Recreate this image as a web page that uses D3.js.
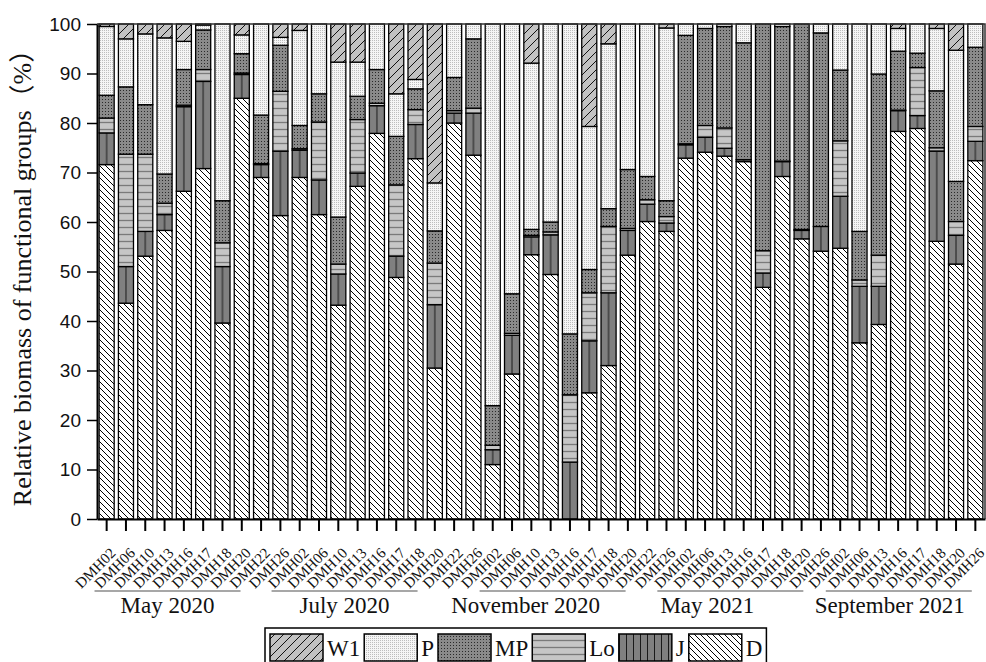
<!DOCTYPE html>
<html>
<head>
<meta charset="utf-8">
<script src="https://cdn.jsdelivr.net/npm/d3@7"></script>
<style>
  body { margin: 0; background: #fff; }
  svg { font-family: 'Liberation Serif', 'Times New Roman', 'Noto Sans CJK SC', serif; }
</style>
</head>
<body>
<div id="chart"></div>
<script>
// Sampling periods and the stations sampled in each one
const periods = ['May 2020', 'July 2020', 'November 2020', 'May 2021', 'September 2021'];
const sitesByPeriod = [
  ['DMH02', 'DMH06', 'DMH10', 'DMH13', 'DMH16', 'DMH17', 'DMH18', 'DMH20', 'DMH22', 'DMH26'],
  ['DMH02', 'DMH06', 'DMH10', 'DMH13', 'DMH16', 'DMH17', 'DMH18', 'DMH20', 'DMH22', 'DMH26'],
  ['DMH02', 'DMH06', 'DMH10', 'DMH13', 'DMH16', 'DMH17', 'DMH18', 'DMH20', 'DMH22', 'DMH26'],
  ['DMH02', 'DMH06', 'DMH13', 'DMH16', 'DMH17', 'DMH18', 'DMH20', 'DMH26'],
  ['DMH02', 'DMH06', 'DMH13', 'DMH16', 'DMH17', 'DMH18', 'DMH20', 'DMH26']
];

// Relative biomass (%) of each functional group, one value per bar (left to right)
const D = [71.6, 43.6, 53.1, 58.3, 66.2, 70.8, 39.6, 85.0, 69.0, 61.3,
  69.0, 61.5, 43.2, 67.2, 77.9, 48.8, 72.8, 30.5, 80.0, 73.5,
  11.0, 29.3, 53.4, 49.4, 0, 25.5, 31.0, 53.3, 60.1, 58.1,
  72.9, 74.1, 73.3, 72.2, 46.8, 69.2, 56.6, 54.1,
  54.7, 35.6, 39.3, 78.3, 78.9, 56.1, 51.5, 72.4];
const J = [6.4, 7.4, 5.0, 3.2, 17.1, 17.6, 11.4, 4.8, 2.6, 13.0,
  5.5, 7.0, 6.3, 2.7, 5.6, 4.3, 6.9, 12.8, 2.0, 8.5,
  3.0, 7.8, 3.6, 8.0, 11.5, 10.5, 14.7, 5.0, 3.5, 1.7,
  2.7, 3.0, 1.6, 0.4, 2.9, 3.0, 1.7, 5.0,
  10.5, 11.4, 7.7, 4.2, 2.6, 18.2, 5.8, 3.9];
const Lo = [3.0, 22.7, 15.6, 2.3, 0.3, 2.4, 4.8, 0.3, 0.2, 12.1,
  0.3, 11.7, 2.0, 10.8, 0.5, 14.4, 3.0, 8.4, 0.5, 1.0,
  0.9, 0.4, 0.3, 0.6, 13.6, 9.7, 13.4, 0.4, 0.9, 1.3,
  0.2, 2.4, 4.1, 0, 4.5, 0.1, 0.2, 0,
  11.2, 1.3, 6.3, 0.1, 9.7, 0.7, 2.8, 3.0];
const MP = [4.6, 13.6, 10.0, 5.9, 7.2, 8.0, 8.5, 3.9, 9.8, 9.3,
  4.7, 5.7, 9.5, 4.7, 6.8, 9.8, 4.2, 6.5, 6.7, 14.0,
  8.0, 8.0, 1.2, 2.0, 12.3, 4.7, 3.6, 11.9, 4.7, 3.2,
  21.9, 19.6, 20.5, 23.6, 45.8, 27.2, 41.5, 39.1,
  14.3, 9.8, 36.6, 11.9, 2.9, 11.5, 8.1, 16.0];
const P = [13.9, 9.7, 14.3, 27.5, 5.7, 1.0, 35.7, 3.8, 18.4, 1.6,
  19.2, 14.1, 31.3, 6.9, 9.2, 8.6, 1.9, 9.7, 10.8, 3.0,
  77.1, 54.5, 33.6, 40.0, 62.6, 28.9, 33.3, 29.4, 30.8, 34.9,
  2.3, 0.9, 0.5, 3.8, 0, 0.5, 0, 1.8,
  9.3, 41.9, 10.1, 4.6, 5.9, 12.6, 26.5, 4.7];
const W1 = [0.5, 3.0, 2.0, 2.8, 3.5, 0.2, 0, 2.2, 0, 2.7,
  1.3, 0, 7.7, 7.7, 0, 14.1, 11.2, 32.1, 0, 0,
  0, 0, 7.9, 0, 0, 20.7, 4.0, 0, 0, 0.8,
  0, 0, 0, 0, 0, 0, 0, 0,
  0, 0, 0, 0.9, 0, 0.9, 5.3, 0];

const yTicks = [0, 10, 20, 30, 40, 50, 60, 70, 80, 90, 100];
const stackKeys = ['D', 'J', 'Lo', 'MP', 'P', 'W1'];      // bottom to top
const legendKeys = ['W1', 'P', 'MP', 'Lo', 'J', 'D'];

// Build one row per bar
const seriesValues = { D, J, Lo, MP, P, W1 };
const rows = [];
sitesByPeriod.forEach((sites, p) => {
  sites.forEach((site) => {
    const i = rows.length;
    const row = { period: periods[p], site: site };
    stackKeys.forEach((k) => { row[k] = seriesValues[k][i]; });
    rows.push(row);
  });
});

const width = 986;
const height = 662;
const plot = { left: 97, right: 985, top: 24, bottom: 519 };

// hand placed period captions are not centred exactly under their bars
const captionNudge = [12, -4, -16, -8, 20];
const lineNudge = [12, -4, 11, 15, 29];

const svg = d3.select('#chart')
  .append('svg')
  .attr('width', width)
  .attr('height', height);

const x = d3.scaleBand()
  .domain(d3.range(rows.length))
  .range([plot.left, plot.right])
  .paddingInner(0.22)
  .paddingOuter(0.11);
const bw = x.bandwidth();

const y = d3.scaleLinear().domain([0, 100]).range([plot.bottom, plot.top]);

// Fill patterns
const defs = svg.append('defs');

function addPattern(id, w, h, bg, attrs) {
  const p = defs.append('pattern')
    .attr('id', id)
    .attr('patternUnits', 'userSpaceOnUse')
    .attr('width', w)
    .attr('height', h)
    .attr('x', attrs.x || 0);
  p.append('rect').attr('width', w).attr('height', h).attr('fill', bg);
  if (attrs.path) {
    p.append('path')
      .attr('d', attrs.path)
      .attr('fill', 'none')
      .attr('stroke', attrs.stroke)
      .attr('stroke-width', attrs.sw);
  }
  if (attrs.dots) {
    attrs.dots.forEach(([dx, dy]) => {
      p.append('rect').attr('x', dx).attr('y', dy).attr('width', 1).attr('height', 1).attr('fill', attrs.dotColor);
    });
  }
}

const sD = 6;
addPattern('pat-D', sD, sD, '#ffffff', {
  path: `M0,0L${sD},${sD}M-1,${sD - 1}L1,${sD + 1}M${sD - 1},-1L${sD + 1},1`,
  stroke: '#000', sw: 1
});
const sW = 9;
addPattern('pat-W1', sW, sW, '#c2c2c2', {
  path: `M0,${sW}L${sW},0M-1,1L1,-1M${sW - 1},${sW + 1}L${sW + 1},${sW - 1}`,
  stroke: '#111', sw: 1
});
addPattern('pat-Lo', 8, 7, '#c6c6c6', {
  path: 'M0,3.5L8,3.5', stroke: '#7a7a7a', sw: 1.3
});
// one vertical line through the middle of each bar
const step = x.step();
addPattern('pat-J', step, 8, '#808080', {
  x: x(0) + bw / 2 - step / 2,
  path: `M${step / 2},0L${step / 2},8`, stroke: '#1a1a1a', sw: 1
});
addPattern('pat-J-legend', 7, 8, '#808080', {
  path: 'M3.5,0L3.5,8', stroke: '#1a1a1a', sw: 1
});
addPattern('pat-MP', 3, 3, '#8a8a8a', { dots: [[0, 0]], dotColor: '#2a2a2a' });
addPattern('pat-P', 2, 2, '#f5f5f5', { dots: [[0, 0]], dotColor: '#bdbdbd' });

// Stacked bars
const stack = d3.stack().keys(stackKeys);
const layers = stack(rows);

svg.append('g')
  .selectAll('g')
  .data(layers)
  .join('g')
  .attr('fill', (d) => `url(#pat-${d.key})`)
  .selectAll('rect')
  .data((d) => d.map((v, i) => ({ v, i })).filter((e) => e.v[1] - e.v[0] > 0))
  .join('rect')
  .attr('x', (e) => x(e.i))
  .attr('y', (e) => y(e.v[1]))
  .attr('width', bw)
  .attr('height', (e) => y(e.v[0]) - y(e.v[1]))
  .attr('stroke', '#000')
  .attr('stroke-width', 1.3);

// Frame (top and right)
svg.append('path')
  .attr('d', `M${plot.left},${plot.top}H${plot.right}V${plot.bottom}`)
  .attr('fill', 'none')
  .attr('stroke', '#333')
  .attr('stroke-width', 1.5);

// Y axis
const yAxis = svg.append('g')
  .attr('transform', `translate(${plot.left},0)`)
  .call(d3.axisLeft(y).tickValues(yTicks).tickSize(10).tickSizeOuter(0).tickPadding(6));
yAxis.select('.domain').attr('stroke-width', 2);
yAxis.selectAll('.tick line').attr('stroke-width', 1.5);
yAxis.selectAll('.tick text')
  .attr('font-family', null)
  .attr('font-size', 19)
  .attr('fill', '#111');

// X axis with ticks at bar centres
const xAxis = svg.append('g')
  .attr('transform', `translate(0,${plot.bottom})`)
  .call(d3.axisBottom(x).tickSize(12).tickSizeOuter(0).tickFormat(''));
xAxis.select('.domain').attr('stroke-width', 2);
xAxis.selectAll('.tick line').attr('stroke-width', 2);

svg.append('g')
  .selectAll('text')
  .data(rows)
  .join('text')
  .attr('transform', (d, i) => `translate(${x(i) + bw / 2 + 10},554) rotate(-45)`)
  .attr('text-anchor', 'end')
  .attr('font-size', 15)
  .attr('fill', '#111')
  .text((d) => d.site);

// Period labels with a line over each
let start = 0;
const periodInfo = sitesByPeriod.map((sites, p) => {
  const first = start;
  const last = start + sites.length - 1;
  start += sites.length;
  return { name: periods[p], first, last };
});

const pg = svg.append('g');
periodInfo.forEach((g, p) => {
  const cx = (x(g.first) + x(g.last)) / 2 + bw / 2 - 38;
  const lx = cx + lineNudge[p];
  pg.append('line')
    .attr('x1', lx - 73)
    .attr('x2', lx + 73)
    .attr('y1', 591)
    .attr('y2', 591)
    .attr('stroke', '#8a8a8a')
    .attr('stroke-width', 1.5);
  pg.append('text')
    .attr('x', cx + captionNudge[p])
    .attr('y', 613)
    .attr('text-anchor', 'middle')
    .attr('font-size', 23)
    .attr('fill', '#111')
    .text(g.name);
});

// Y axis title
svg.append('text')
  .attr('transform', `translate(31,${(plot.top + plot.bottom) / 2}) rotate(-90)`)
  .attr('text-anchor', 'middle')
  .attr('font-size', 26)
  .attr('fill', '#111')
  .text('Relative biomass of functional groups（%）');

// Legend
const legend = svg.append('g');
const legendBox = legend.append('rect')
  .attr('x', 265)
  .attr('y', 628)
  .attr('height', 40)
  .attr('fill', '#fff')
  .attr('stroke', '#000')
  .attr('stroke-width', 1.5);

let lx = 270;
legendKeys.forEach((k) => {
  legend.append('rect')
    .attr('x', lx)
    .attr('y', 634)
    .attr('width', 53)
    .attr('height', 27)
    .attr('fill', k === 'J' ? 'url(#pat-J-legend)' : `url(#pat-${k})`)
    .attr('stroke', '#000')
    .attr('stroke-width', 1.5);
  const t = legend.append('text')
    .attr('x', lx + 57)
    .attr('y', 656)
    .attr('font-size', 23)
    .attr('fill', '#111')
    .text(k);
  lx += 57 + t.node().getComputedTextLength() + 4;
});
legendBox.attr('width', lx - 265);
</script>
</body>
</html>
